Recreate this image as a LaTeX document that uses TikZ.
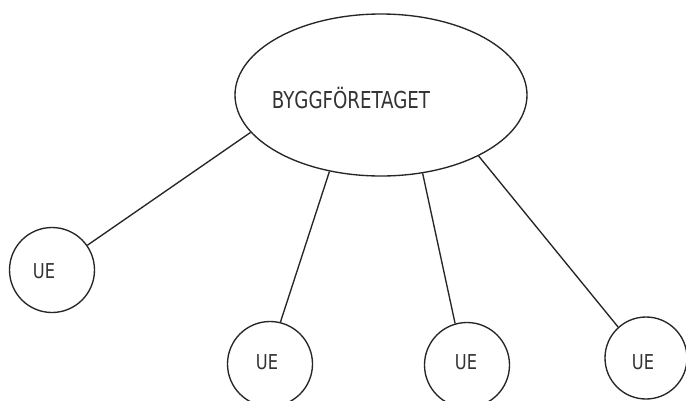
\documentclass[tikz,border=0pt]{standalone}
\usepackage{fontspec}
\setmainfont{DejaVu Sans Condensed}
\usetikzlibrary{shapes.geometric}
\tikzset{
  ink/.style={draw=black!85, line width=1.35pt},
  bigoval/.style={ink, ellipse, minimum width=292pt, minimum height=162pt, inner sep=0pt},
  uecircle/.style={ink, circle, minimum size=85pt, inner sep=0pt},
  lbl/.style={text=black!80, inner sep=0pt, font=\fontsize{20.5pt}{22pt}\selectfont},
  biglbl/.style={text=black!80, inner sep=0pt, font=\fontsize{23.3pt}{25pt}\selectfont},
  link/.style={ink}
}
\begin{document}
\begin{tikzpicture}[x=1pt,y=-1pt]
\useasboundingbox (0,0) rectangle (686,400);
\clip (0,0) rectangle (686,400);
\fill[white] (0,0) rectangle (686,400);
\node[bigoval] (bf) at (381,95) {};
\node[biglbl] (bft) at (351,98) {\scalebox{0.87}[1]{BYGGFÖRETAGET}};
\node[uecircle] (u1) at (52,270) {};
\node[uecircle] (u2) at (270,364) {};
\node[uecircle] (u3) at (467,365) {};
\node[uecircle, minimum size=82pt] (u4) at (646,358) {};
\node[lbl] (t1) at (44,271) {\scalebox{0.88}[1]{UE}};
\node[lbl] (t2) at (267,362) {\scalebox{0.88}[1]{UE}};
\node[lbl] (t3) at (466,362) {\scalebox{0.88}[1]{UE}};
\node[lbl] (t4) at (643,362) {\scalebox{0.88}[1]{UE}};
\draw[link] (bf.196.3) -- (u1.35.5);
\draw[link] (bf.236.1) -- (u2.76.6);
\draw[link] (bf.298.3) -- (u3.106);
\draw[link] (bf.328) -- (u4.132);
\end{tikzpicture}
\end{document}
